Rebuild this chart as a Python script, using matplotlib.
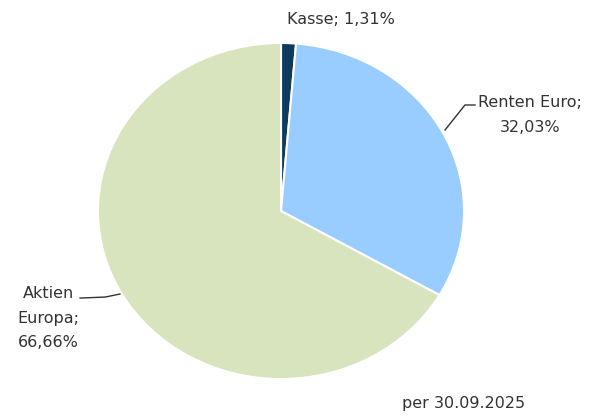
import matplotlib.pyplot as plt

# Daten
labels = ["Kasse", "Renten Euro", "Aktien Europa"]
values = [1.31, 32.03, 66.66]
colors = ["#0E3A5C", "#99CCFF", "#D7E4BD"]

txt_color = "#333333"

plt.rcParams["font.family"] = "DejaVu Sans"

fig = plt.figure(figsize=(6, 4.16), dpi=100)
ax = fig.add_axes([0, 0, 1, 1])

ax.pie(values, colors=colors, startangle=90, counterclock=False,
       wedgeprops=dict(edgecolor="white", linewidth=1.5))

# leicht gestreckte Ellipse wie im Original
ax.set_aspect("auto")
ax.set_xlim(-1.5355, 1.743)
ax.set_ylim(-1.220, 1.256)
ax.axis("off")

fs = 11.5
ax.text(0.328, 1.137, f"{labels[0]}; {values[0]:.2f}%".replace(".", ","),
        ha="center", va="center", fontsize=fs, color=txt_color)

ax.text(1.36, 0.57, f"Renten Euro;\n{values[1]:.2f}%".replace(".", ","),
        ha="center", va="center", fontsize=fs, color=txt_color,
        multialignment="center", linespacing=1.8)
ax.plot([0.896, 1.005, 1.06], [0.482, 0.631, 0.631], color=txt_color, lw=1)

ax.text(-1.273, -0.637, f"Aktien\nEuropa;\n{values[2]:.2f}%".replace(".", ","),
        ha="center", va="center", fontsize=fs, color=txt_color,
        multialignment="center", linespacing=1.8)
ax.plot([-1.098, -0.96, -0.88], [-0.518, -0.512, -0.494], color=txt_color, lw=1)

fig.text(0.772, 0.029, "per 30.09.2025", ha="center", va="center",
         fontsize=fs, color=txt_color)

fig.savefig("out.png", dpi=100)
